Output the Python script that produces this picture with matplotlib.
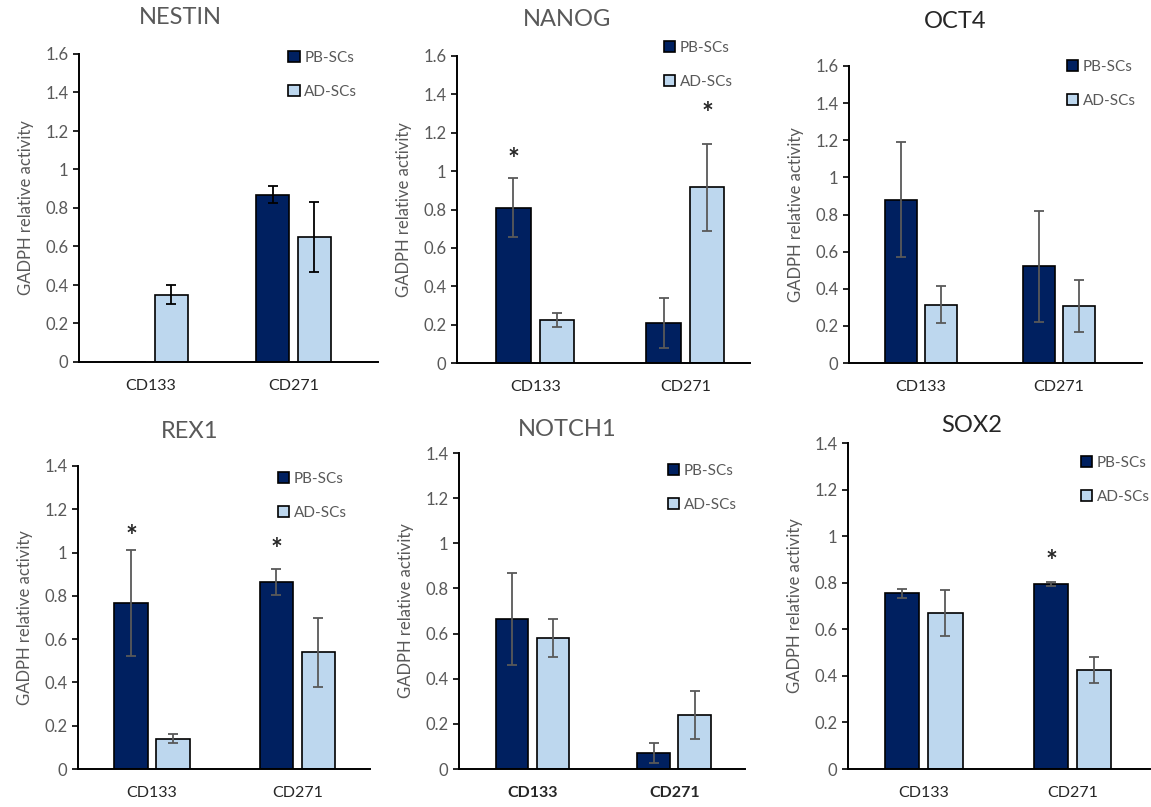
import numpy as np
import matplotlib
matplotlib.use("Agg")
import matplotlib.pyplot as plt
from matplotlib.patches import Patch

plt.rcParams['font.family'] = ['Lato', 'DejaVu Sans']

genes = ["NESTIN", "NANOG", "OCT4", "REX1", "NOTCH1", "SOX2"]
markers = ["CD133", "CD271"]
series = ["PB-SCs", "AD-SCs"]

pb_mean = [[0.0, 0.87], [0.81, 0.21], [0.88, 0.52], [0.765, 0.865], [0.665, 0.07], [0.755, 0.795]]
pb_err = [[0.0, 0.045], [0.155, 0.13], [0.31, 0.30], [0.245, 0.06], [0.205, 0.045], [0.02, 0.008]]
ad_mean = [[0.35, 0.65], [0.225, 0.915], [0.315, 0.305], [0.14, 0.54], [0.58, 0.24], [0.67, 0.425]]
ad_err = [[0.05, 0.18], [0.035, 0.225], [0.1, 0.14], [0.02, 0.16], [0.085, 0.105], [0.1, 0.055]]
y_max = [1.6, 1.6, 1.6, 1.4, 1.4, 1.4]
# significance stars: (gene index, marker index, series offset sign, y)
stars = [(1, 0, -1, 1.06), (1, 1, 1, 1.30), (3, 0, -1, 1.07), (3, 1, -1, 1.01), (5, 1, -1, 0.89)]

W, H = 1151, 807
dark = "#002060"
light = "#bdd7ee"
grey = "#595959"

# pixel boxes: axis x, right x, top y, zero y  /  xlim
boxes = [(79, 378, 54, 362), (457, 750, 56, 363), (849, 1142, 66, 363),
         (78, 370, 466, 769), (459, 745, 453, 769), (848, 1150, 443, 769)]
xlims = [(-0.5, 1.59), (-0.52, 1.43), (-0.52, 1.6), (-0.51, 1.5), (-0.52, 1.5), (-0.51, 1.52)]
legend_pos = [(0.70, 1.01), (0.706, 1.05), (0.744, 1.02), (0.685, 0.98), (0.73, 0.965), (0.77, 0.96)]
titles_xy = [(180, 18), (567, 20), (955, 22), (190, 432), (567, 430), (972, 425)]
title_cols = [grey, grey, "#262626", grey, grey, "#262626"]

fig = plt.figure(figsize=(W / 100, H / 100), dpi=100)

x = np.arange(len(markers))
off = 0.145
bw = 0.23

for i, g in enumerate(genes):
    x0, x1, yt, yb = boxes[i]
    ax = fig.add_axes([x0 / W, 1 - yb / H, (x1 - x0) / W, (yb - yt) / H])
    ebc = "black" if i == 0 else grey
    pbm = np.array(pb_mean[i])
    pbe = np.array(pb_err[i])
    show = pbm > 0
    ax.bar(x - off, pbm, bw, color=dark, edgecolor="black", linewidth=1.2, zorder=2)
    ax.bar(x + off, ad_mean[i], bw, color=light, edgecolor="black", linewidth=1.2, zorder=2)
    ax.errorbar((x - off)[show], pbm[show], yerr=pbe[show], fmt="none", ecolor=ebc,
                elinewidth=1.3, capsize=3.5, capthick=1.3, zorder=3)
    ax.errorbar(x + off, ad_mean[i], yerr=ad_err[i], fmt="none", ecolor=ebc,
                elinewidth=1.3, capsize=3.5, capthick=1.3, zorder=3)

    ax.set_ylim(0, y_max[i])
    ax.set_xlim(*xlims[i])
    ticks = np.arange(0, y_max[i] + 0.01, 0.2)
    ax.set_yticks(ticks)
    ax.set_yticklabels(["0" if v == 0 else ("1" if abs(v - 1) < 1e-9 else f"{v:.1f}") for v in ticks])
    ax.set_xticks(x)
    ax.set_xticklabels(markers, fontweight="bold" if g == "NOTCH1" else "normal")
    ax.tick_params(axis="y", labelsize=12, labelcolor=grey, length=4, width=1.2, direction="out")
    ax.tick_params(axis="x", labelsize=11.5, labelcolor="#262626", length=0, pad=12)
    for s in ["top", "right"]:
        ax.spines[s].set_visible(False)
    for s in ["left", "bottom"]:
        ax.spines[s].set_linewidth(1.4)
        ax.spines[s].set_color("black")
    ax.set_ylabel("GADPH relative activity", fontsize=12, color=grey, labelpad=8)

    handles = [Patch(facecolor=dark, edgecolor="black", linewidth=1.2),
               Patch(facecolor=light, edgecolor="black", linewidth=1.2)]
    leg = ax.legend(handles, series, loc="upper left", bbox_to_anchor=legend_pos[i],
                    frameon=False, fontsize=11, handlelength=0.75, handleheight=0.75,
                    handletextpad=0.3, labelspacing=1.3, borderpad=0, borderaxespad=0)
    for t in leg.get_texts():
        t.set_color(grey)

    tx, ty = titles_xy[i]
    fig.text(tx / W, 1 - ty / H, g, fontsize=17, color=title_cols[i], ha="center", va="center")

for gi, mi, sgn, yv in stars:
    ax = fig.axes[gi]
    ax.text(mi + sgn * off, yv, "*", ha="center", va="center", fontsize=20,
            fontweight="bold", color="#262626")

fig.savefig("out.png", dpi=100)
